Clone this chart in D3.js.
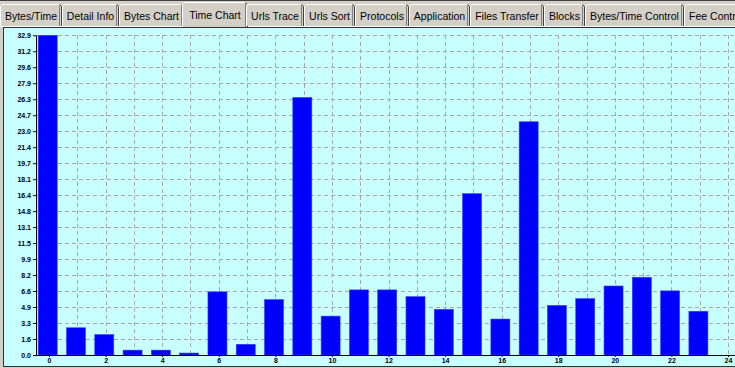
<!DOCTYPE html>
<html><head><meta charset="utf-8">
<script src="https://cdn.jsdelivr.net/npm/d3@7/dist/d3.min.js"></script>
<style>
html,body{margin:0;padding:0;background:#d4d0c8;overflow:hidden}
svg{display:block}
</style>
</head><body>
<svg id="chart" width="735" height="368"></svg>
<script>
// Tab strip of the traffic monitor window
const tabLabels = ["Bytes/Time", "Detail Info", "Bytes Chart", "Time Chart", "Urls Trace", "Urls Sort",
  "Protocols", "Application", "Files Transfer", "Blocks", "Bytes/Time Control", "Fee Control"];
const activeTab = "Time Chart";

// Hour of day and the time spent in each hour
const hours = [0, 1, 2, 3, 4, 5, 6, 7, 8, 9, 10, 11, 12, 13, 14, 15, 16, 17, 18, 19, 20, 21, 22, 23];
const timeValues = [32.9, 2.8, 2.1, 0.5, 0.5, 0.2, 6.5, 1.1, 5.7, 26.5, 4.0, 6.7,
  6.7, 6.0, 4.7, 16.6, 3.7, 24.0, 5.1, 5.8, 7.1, 8.0, 6.6, 4.5];

// Axis tick labels
const xTickLabels = ["0", "2", "4", "6", "8", "10", "12", "14", "16", "18", "20", "22", "24"];
const yTickLabels = ["0.0", "1.6", "3.3", "4.9", "6.6", "8.2", "9.9", "11.5", "13.1", "14.8", "16.4",
  "18.1", "19.7", "21.4", "23.0", "24.7", "26.3", "27.9", "29.6", "31.2", "32.9"];

const W = 735, H = 368;
const svg = d3.select("#chart");

// ---------- window chrome ----------
svg.append("rect").attr("width", W).attr("height", H).attr("fill", "#d4d0c8");
svg.append("line").attr("x1", 0).attr("x2", W).attr("y1", 0.5).attr("y2", 0.5).attr("stroke", "#404040");

const tabFont = "10.5px 'Liberation Sans', Arial, sans-serif";
const measure = svg.append("text").style("font", tabFont).attr("visibility", "hidden");
const tabPad = 10;
let cursor = 0;
const tabs = tabLabels.map(label => {
  measure.text(label);
  const w = Math.round(measure.node().getComputedTextLength()) + tabPad;
  const t = { label, x0: cursor, x1: cursor + w, active: label === activeTab };
  cursor += w;
  return t;
});
measure.remove();

const stripBottom = 27;
// baseline of the strip (white highlight under inactive tabs)
svg.append("line").attr("x1", 0).attr("x2", W).attr("y1", stripBottom - 0.5).attr("y2", stripBottom - 0.5)
  .attr("stroke", "#ffffff");

const tabG = svg.append("g");
tabs.forEach(t => {
  const g = tabG.append("g");
  const top = t.active ? 2 : 4;
  const x0 = t.active ? t.x0 - 2 : t.x0;
  const x1 = t.active ? t.x1 + 2 : t.x1;
  const bottom = t.active ? stripBottom + 1 : stripBottom - 1;
  g.append("rect").attr("x", x0).attr("y", top).attr("width", x1 - x0).attr("height", bottom - top)
    .attr("fill", "#d4d0c8");
  // highlight: left + top
  g.append("path").attr("d", `M${x0 + 0.5},${bottom} V${top + 2.5} L${x0 + 2.5},${top + 0.5} H${x1 - 2.5}`)
    .attr("fill", "none").attr("stroke", "#ffffff");
  // shadow: right
  g.append("path").attr("d", `M${x1 - 2.5},${top + 1.5} V${bottom}`).attr("fill", "none").attr("stroke", "#808080");
  g.append("path").attr("d", `M${x1 - 2.5},${top + 0.5} L${x1 - 0.5},${top + 2.5} V${bottom}`)
    .attr("fill", "none").attr("stroke", "#404040");
  g.append("text").attr("x", (x0 + x1) / 2).attr("y", t.active ? 18.5 : 20)
    .attr("text-anchor", "middle").style("font", tabFont).attr("fill", "#000").text(t.label);
});

// ---------- chart panel ----------
svg.append("rect").attr("x", 3.5).attr("y", 27.5).attr("width", W).attr("height", 339)
  .attr("fill", "#c8ffff").attr("stroke", "#303030");

const x = d3.scaleLinear().domain([0, 24]).range([49, 728]);
const yMax = +yTickLabels[yTickLabels.length - 1];
const y = d3.scaleLinear().domain([0, yMax]).range([355, 35.3]);
const yTickValues = yTickLabels.map((_, i) => yMax * i / (yTickLabels.length - 1));
const axisLeftX = 36;

// dashed grid
const grid = svg.append("g").attr("stroke", "#a8a8a8").attr("stroke-dasharray", "4,3").attr("shape-rendering", "crispEdges");
grid.selectAll("line.h").data(yTickValues.slice(1)).join("line").attr("class", "h")
  .attr("x1", axisLeftX + 1).attr("x2", W).attr("y1", d => Math.round(y(d)) + 0.5).attr("y2", d => Math.round(y(d)) + 0.5);
grid.selectAll("line.v").data(d3.range(1, 25)).join("line").attr("class", "v")
  .attr("x1", d => Math.round(x(d)) + 0.5).attr("x2", d => Math.round(x(d)) + 0.5)
  .attr("y1", y(yMax)).attr("y2", y(0));

// bars
const barW = 19, barOff = -10.8;
svg.append("g").selectAll("rect").data(hours).join("rect")
  .attr("x", d => x(d) + barOff).attr("width", barW)
  .attr("y", (d, i) => y(timeValues[i])).attr("height", (d, i) => y(0) - y(timeValues[i]))
  .attr("fill", "#0000ff").attr("stroke", "#3a3aff").attr("stroke-width", 0.6);

// axes
const tickFont = "bold 7px 'Liberation Sans', Arial, sans-serif";
const yAxis = svg.append("g").attr("transform", `translate(${axisLeftX},0)`)
  .call(d3.axisLeft(y).tickValues(yTickValues).tickSize(3).tickPadding(2)
    .tickFormat((d, i) => yTickLabels[i]));
yAxis.select(".domain").remove();
yAxis.selectAll("text").style("font", tickFont).attr("fill", "#000").attr("dy", "0.35em");
yAxis.selectAll("line").attr("stroke", "#000");

const xAxis = svg.append("g").attr("transform", `translate(0,${y(0)})`)
  .call(d3.axisBottom(x).tickValues(xTickLabels.map(Number)).tickSize(2).tickPadding(1)
    .tickFormat((d, i) => xTickLabels[i]));
xAxis.select(".domain").remove();
xAxis.selectAll("text").style("font", tickFont).attr("fill", "#000");
xAxis.selectAll("line").attr("stroke", "#000");

svg.append("line").attr("x1", axisLeftX + 0.5).attr("x2", axisLeftX + 0.5).attr("y1", y(yMax)).attr("y2", y(0) + 0.5)
  .attr("stroke", "#000");
svg.append("line").attr("x1", axisLeftX).attr("x2", W).attr("y1", Math.round(y(0)) + 0.5).attr("y2", Math.round(y(0)) + 0.5)
  .attr("stroke", "#000");
</script>
</body></html>
